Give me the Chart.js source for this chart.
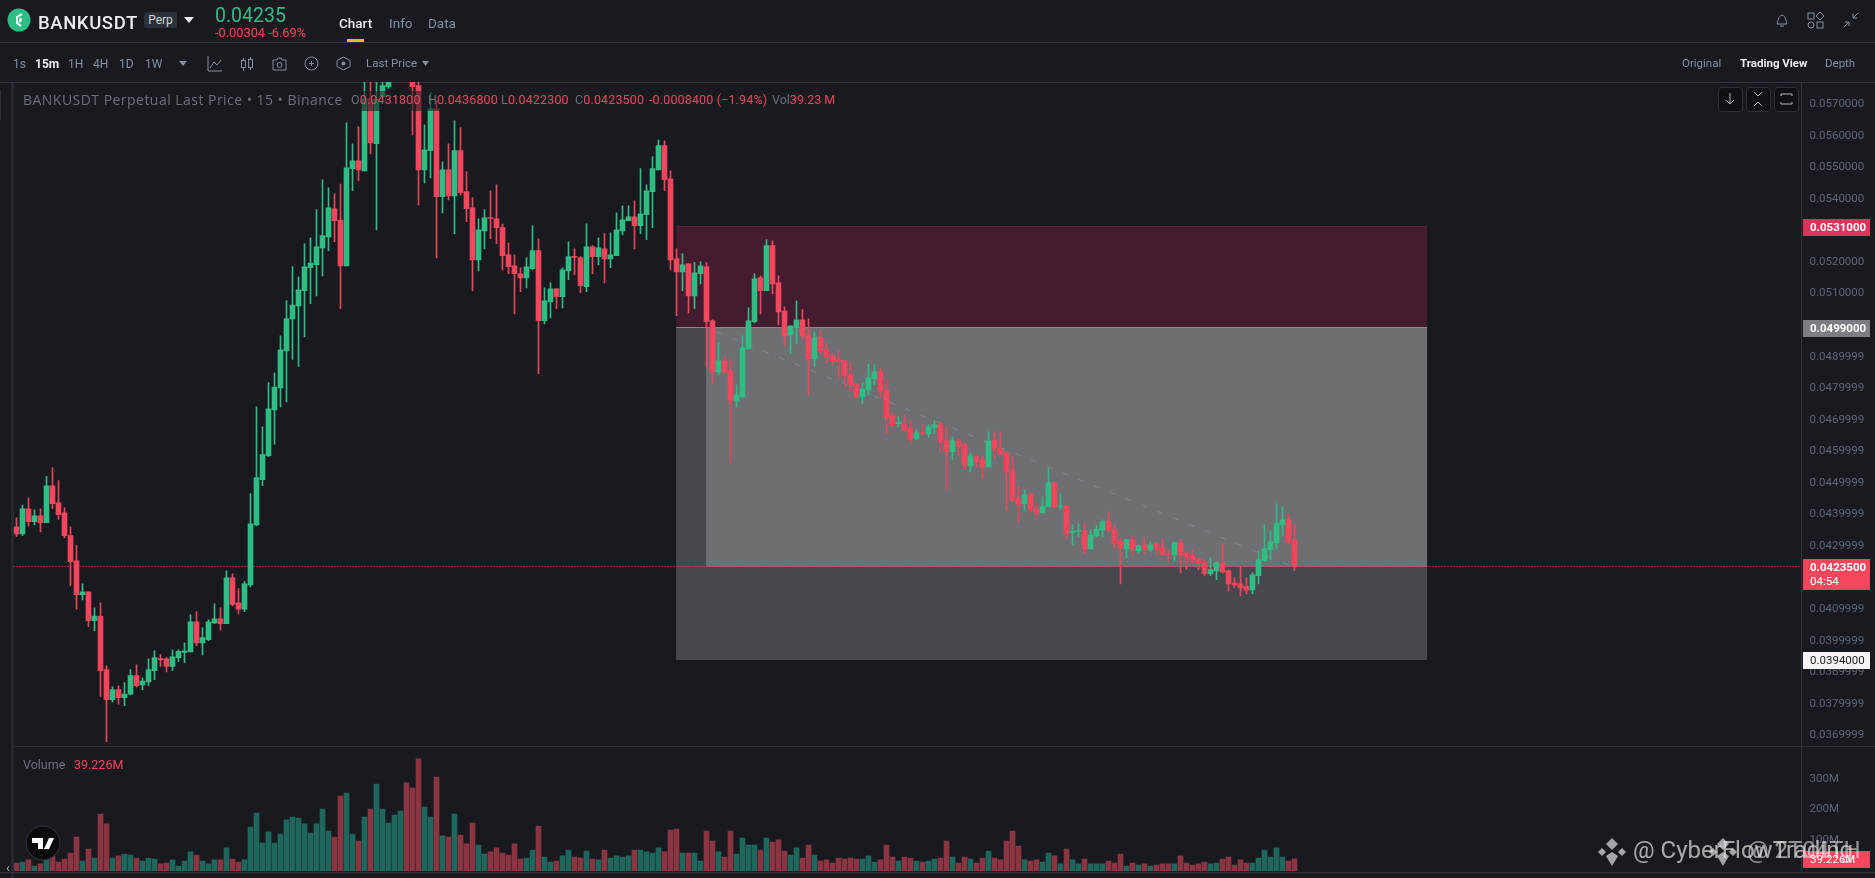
<!DOCTYPE html>
<html>
<head>
<meta charset="utf-8">
<title>BANKUSDT</title>
<script src="https://cdn.jsdelivr.net/npm/chart.js@4"></script>
<style>
  html, body { margin: 0; padding: 0; background: #181a20; overflow: hidden; }
  body { width: 1875px; height: 878px; position: relative; font-family: Roboto, sans-serif; }
  canvas { position: absolute; left: 0; top: 0; }
  .t { position: absolute; white-space: nowrap; line-height: 1; color: #848e9c; font-size: 12px; z-index: 3; }
  .line { position: absolute; background: #2f343d; z-index: 1; }
  svg { position: absolute; z-index: 3; overflow: visible; }
  .btn { position: absolute; top: 87px; width: 23px; height: 23px; border: 1px solid #2b3139; border-radius: 4px; background: #101114; z-index: 3; }
  .red { color: #f6465d; }
</style>
</head>
<body>
<div class="line" style="left:0;top:42px;width:1875px;height:1px"></div>
<div class="line" style="left:0;top:82px;width:1875px;height:1px"></div>
<div class="line" style="left:11px;top:83px;width:3px;height:795px;background:#25282e"></div>
<div class="line" style="left:0;top:90px;width:1px;height:30px;background:#2b3139"></div>

<!-- header -->
<svg width="24" height="24" style="left:7px;top:8px"><circle cx="12" cy="12" r="11.5" fill="#2ebd85"/><path d="M15 6 L10 9 L10 15 L14 18 M13 10 L14 12 L12 14" stroke="#fff" stroke-width="2" fill="none"/></svg>
<div class="t" style="left:38px;top:14px;font-size:18.5px;letter-spacing:.6px;font-weight:500;color:#eaecef">BANKUSDT</div>
<div class="t" style="left:144px;top:12px;width:33px;height:16px;line-height:16px;background:#2b3139;color:#cfd3d8;font-size:12px;text-align:center;border-radius:2px">Perp</div>
<svg width="10" height="6" style="left:184px;top:17px"><path d="M0 0H10L5 6Z" fill="#eaecef"/></svg>
<div class="t" style="left:215px;top:6px;font-size:19.5px;color:#2ebd85">0.04235</div>
<div class="t red" style="left:215px;top:27px;font-size:12.8px">-0.00304 -6.69%</div>
<div class="t" style="left:339px;top:17px;font-size:13.5px;font-weight:500;color:#eaecef">Chart</div>
<div class="t" style="left:389px;top:17px;font-size:13.5px">Info</div>
<div class="t" style="left:428px;top:17px;font-size:13.5px">Data</div>
<div class="line" style="left:347px;top:39px;width:17px;height:3px;background:#f0b90b;z-index:2"></div>

<svg width="16" height="16" style="left:1774px;top:12px"><path d="M3 12 C4 10 4 4 8 3 C12 4 12 10 13 12 Z M6 14 H10" stroke="#848e9c" fill="none"/></svg>
<svg width="18" height="18" style="left:1807px;top:11px"><rect x="1" y="2" width="6" height="6" stroke="#848e9c" fill="none"/><rect x="10" y="11" width="6" height="6" stroke="#848e9c" fill="none"/><circle cx="4" cy="14" r="3" stroke="#848e9c" fill="none"/><path d="M13 1 L17 5 L13 9 L9 5 Z" stroke="#848e9c" fill="none"/></svg>
<svg width="16" height="16" style="left:1843px;top:12px"><path d="M15 1 L10 6 M10 2 V6 H14 M1 15 L6 10 M2 10 H6 V14" stroke="#848e9c" fill="none"/></svg>

<!-- toolbar -->
<div class="t" style="left:13px;top:58px">1s</div>
<div class="t" style="left:35px;top:58px;font-weight:700;color:#eaecef">15m</div>
<div class="t" style="left:68px;top:58px">1H</div>
<div class="t" style="left:93px;top:58px">4H</div>
<div class="t" style="left:119px;top:58px">1D</div>
<div class="t" style="left:145px;top:58px">1W</div>
<svg width="8" height="5" style="left:179px;top:61px"><path d="M0 0H8L4 5Z" fill="#848e9c"/></svg>
<svg width="16" height="16" style="left:207px;top:56px"><path d="M1 0 V15 H15 M3 12 L7 6 L10 9 L14 4" stroke="#848e9c" fill="none"/></svg>
<svg width="14" height="16" style="left:240px;top:56px"><rect x="1.5" y="4.5" width="4" height="7" stroke="#848e9c" fill="none"/><rect x="8.5" y="3.5" width="4" height="8" stroke="#848e9c" fill="none"/><path d="M3.5 2V4M3.5 12V15M10.500 1V3M10.500 12V14" stroke="#848e9c"/></svg>
<svg width="15" height="15" style="left:272px;top:56px"><path d="M1 4 H5 L6 2 H9 L10 4 H14 V14 H1 Z" stroke="#848e9c" fill="none"/><circle cx="7.500" cy="9" r="2.500" stroke="#848e9c" fill="none"/></svg>
<svg width="15" height="15" style="left:304px;top:56px"><circle cx="7.500" cy="7.500" r="6.500" stroke="#848e9c" fill="none"/><path d="M5 7.500H10M7.500 5V10" stroke="#848e9c"/></svg>
<svg width="15" height="15" style="left:336px;top:56px"><path d="M7.500 1 L14 4.500 V10.500 L7.500 14 L1 10.500 V4.500 Z" stroke="#848e9c" fill="none"/><circle cx="7.500" cy="7.500" r="2" fill="#848e9c"/></svg>
<div class="t" style="left:366px;top:58px;font-size:11.5px">Last Price</div>
<svg width="7" height="5" style="left:422px;top:61px"><path d="M0 0H7L3.500 5Z" fill="#848e9c"/></svg>
<div class="t" style="left:1682px;top:58px;font-size:11.5px">Original</div>
<div class="t" style="left:1740px;top:58px;font-size:11.5px;font-weight:700;color:#eaecef">Trading View</div>
<div class="t" style="left:1825px;top:58px;font-size:11.5px">Depth</div>

<!-- legend row -->
<div class="line" style="left:350px;top:91px;width:485px;height:20px;background:rgba(24,26,32,.6);z-index:3"></div>
<div class="t" style="left:23px;top:93px;font-size:14px;letter-spacing:.47px;font-family:'Open Sans';color:#6b7078">BANKUSDT Perpetual Last Price • 15 • Binance</div>
<div class="t" style="left:351px;top:94px;font-size:12.5px;letter-spacing:.15px;color:#6b7078">O<span class="red">0.0431800</span></div>
<div class="t" style="left:428px;top:94px;font-size:12.5px;letter-spacing:.15px;color:#6b7078">H<span class="red">0.0436800</span></div>
<div class="t" style="left:501px;top:94px;font-size:12.5px;letter-spacing:.15px;color:#6b7078">L<span class="red">0.0422300</span></div>
<div class="t" style="left:575px;top:94px;font-size:12.5px;letter-spacing:.15px;color:#6b7078">C<span class="red">0.0423500</span></div>
<div class="t red" style="left:649px;top:94px;font-size:12.5px;letter-spacing:.15px">-0.0008400 (−1.94%)</div>
<div class="t" style="left:772px;top:94px;font-size:12.5px;color:#6b7078">Vol<span class="red">39.23 M</span></div>
<div class="t" style="left:23px;top:759px;font-size:12.5px;color:#6b7078">Volume</div>
<div class="t red" style="left:74px;top:759px;font-size:12.5px">39.226M</div>

<!-- chart buttons -->
<div class="btn" style="left:1718px"></div>
<div class="btn" style="left:1746px"></div>
<div class="btn" style="left:1774px"></div>
<svg width="10" height="12" style="left:1725px;top:93px"><path d="M5 0V11M1 7L5 11L9 7" stroke="#aeb4bc" fill="none"/></svg>
<svg width="12" height="14" style="left:1752px;top:92px"><path d="M2 0L6 4L10 0M2 14L6 10L10 14" stroke="#aeb4bc" fill="none"/></svg>
<svg width="12" height="12" style="left:1781px;top:93px"><path d="M0 3V1H11V3M0 9V11H11V9" stroke="#aeb4bc" fill="none" stroke-linejoin="round"/></svg>

<!-- tradingview logo and collapse tab -->
<svg width="36" height="36" style="left:25px;top:825px"><circle cx="18" cy="18" r="17" fill="#0b0b0d" stroke="#33363c"/><path d="M7 13H18V24H13V18H7ZM24 13 L29 13 L24 24 L19 24 Z" fill="#fff"/></svg>
<div class="t" style="left:6px;top:861px;font-size:13px;color:#aeb4bc">‹</div>

<!-- watermarks -->
<svg width="28" height="28" style="left:1598px;top:838px;opacity:.75"><path d="M14 0L20 6L14 12L8 6ZM4 10L8 14L4 18L0 14ZM24 10L28 14L24 18L20 14ZM14 14L20 18 L14 28 L8 18Z" fill="#d4d4d4"/></svg>
<svg width="28" height="28" style="left:1709px;top:838px;opacity:.75"><path d="M14 0L20 6L14 12L8 6ZM4 10L8 14L4 18L0 14ZM24 10L28 14L24 18L20 14ZM14 14L20 18 L14 28 L8 18Z" fill="#d4d4d4"/></svg>
<div class="t" style="left:1633px;top:838px;font-size:24px;color:rgba(225,225,225,.72);z-index:4">@ CyberFlowTrading</div>
<div class="t" style="left:1747px;top:838px;font-size:24px;color:rgba(225,225,225,.6);z-index:4">@ 2T04TH</div>

<canvas id="chart" width="1875" height="878" style="width:1875px;height:878px;z-index:2"></canvas>

<script>
// candle values, oldest first
const candleOpen = [
  0.04361, 0.04338, 0.04418, 0.04377, 0.04396, 0.04374, 0.04491, 0.04437, 0.04405, 0.04333,
  0.04253, 0.04146, 0.04155, 0.04063, 0.04078, 0.03908, 0.03813, 0.03845, 0.03819, 0.03830,
  0.03889, 0.03860, 0.03869, 0.03905, 0.03942, 0.03942, 0.03918, 0.03946, 0.03963, 0.03964,
  0.04060, 0.03993, 0.04003, 0.04056, 0.04069, 0.04054, 0.04199, 0.04120, 0.04100, 0.04177,
  0.04367, 0.04510, 0.04586, 0.04731, 0.04801, 0.04918, 0.05020, 0.05061, 0.05109, 0.05182,
  0.05192, 0.05245, 0.05280, 0.05369, 0.05333, 0.05188, 0.05496, 0.05521, 0.05489, 0.05717,
  0.05575, 0.05724, 0.05756, 0.05800, 0.05835, 0.05870, 0.05830, 0.05759, 0.05492, 0.05553,
  0.05686, 0.05407, 0.05492, 0.05410, 0.05553, 0.05423, 0.05372, 0.05207, 0.05299, 0.05340,
  0.05337, 0.05309, 0.05223, 0.05188, 0.05163, 0.05150, 0.05179, 0.05236, 0.05014, 0.05074,
  0.05115, 0.05090, 0.05172, 0.05217, 0.05213, 0.05122, 0.05248, 0.05217, 0.05242, 0.05210,
  0.05220, 0.05299, 0.05331, 0.05343, 0.05315, 0.05350, 0.05423, 0.05492, 0.05569, 0.05464,
  0.05210, 0.05169, 0.05194, 0.05093, 0.05163, 0.05185, 0.05014, 0.04852, 0.04887, 0.04855,
  0.04760, 0.04773, 0.04925, 0.05011, 0.05150, 0.05109, 0.05252, 0.05134, 0.05045, 0.04969,
  0.04995, 0.05017, 0.04969, 0.04893, 0.04960, 0.04922, 0.04903, 0.04889, 0.04887, 0.04843,
  0.04814, 0.04773, 0.04795, 0.04830, 0.04852, 0.04792, 0.04713, 0.04688, 0.04687, 0.04672,
  0.04640, 0.04659, 0.04656, 0.04675, 0.04684, 0.04633, 0.04599, 0.04633, 0.04621, 0.04554,
  0.04583, 0.04573, 0.04551, 0.04637, 0.04608, 0.04595, 0.04538, 0.04450, 0.04434, 0.04462,
  0.04418, 0.04405, 0.04424, 0.04500, 0.04424, 0.04427, 0.04343, 0.04346, 0.04348, 0.04291,
  0.04332, 0.04351, 0.04377, 0.04351, 0.04316, 0.04291, 0.04320, 0.04285, 0.04301, 0.04288,
  0.04307, 0.04294, 0.04275, 0.04272, 0.04310, 0.04275, 0.04269, 0.04259, 0.04247, 0.04212,
  0.04221, 0.04247, 0.04221, 0.04183, 0.04180, 0.04171, 0.04161, 0.04206, 0.04253, 0.04288,
  0.04310, 0.04367, 0.04383, 0.04318
];
const candleClose = [
  0.04338, 0.04418, 0.04377, 0.04396, 0.04374, 0.04491, 0.04434, 0.04399, 0.04333, 0.04250,
  0.04146, 0.04155, 0.04063, 0.04078, 0.03905, 0.03813, 0.03845, 0.03819, 0.03831, 0.03889,
  0.03857, 0.03872, 0.03908, 0.03946, 0.03940, 0.03918, 0.03949, 0.03966, 0.03968, 0.04060,
  0.03993, 0.04010, 0.04060, 0.04069, 0.04054, 0.04199, 0.04115, 0.04100, 0.04180, 0.04370,
  0.04517, 0.04590, 0.04735, 0.04804, 0.04922, 0.05020, 0.05064, 0.05112, 0.05185, 0.05197,
  0.05248, 0.05284, 0.05372, 0.05331, 0.05188, 0.05499, 0.05521, 0.05492, 0.05717, 0.05578,
  0.05717, 0.05759, 0.05800, 0.05835, 0.05870, 0.05830, 0.05756, 0.05492, 0.05556, 0.05686,
  0.05407, 0.05492, 0.05410, 0.05553, 0.05420, 0.05369, 0.05207, 0.05302, 0.05340, 0.05338,
  0.05309, 0.05220, 0.05185, 0.05163, 0.05150, 0.05185, 0.05236, 0.05014, 0.05077, 0.05115,
  0.05090, 0.05175, 0.05217, 0.05215, 0.05125, 0.05248, 0.05217, 0.05245, 0.05210, 0.05223,
  0.05302, 0.05334, 0.05343, 0.05315, 0.05353, 0.05426, 0.05496, 0.05569, 0.05461, 0.05207,
  0.05169, 0.05191, 0.05093, 0.05166, 0.05188, 0.05011, 0.04852, 0.04887, 0.04852, 0.04760,
  0.04779, 0.04928, 0.05014, 0.05147, 0.05109, 0.05252, 0.05131, 0.05042, 0.04966, 0.04998,
  0.05017, 0.04966, 0.04893, 0.04960, 0.04919, 0.04900, 0.04887, 0.04887, 0.04839, 0.04808,
  0.04770, 0.04798, 0.04833, 0.04852, 0.04789, 0.04706, 0.04684, 0.04691, 0.04668, 0.04637,
  0.04659, 0.04657, 0.04678, 0.04684, 0.04630, 0.04599, 0.04633, 0.04618, 0.04554, 0.04586,
  0.04567, 0.04551, 0.04633, 0.04605, 0.04592, 0.04535, 0.04446, 0.04431, 0.04462, 0.04415,
  0.04405, 0.04424, 0.04500, 0.04424, 0.04427, 0.04339, 0.04345, 0.04348, 0.04291, 0.04335,
  0.04354, 0.04377, 0.04351, 0.04310, 0.04294, 0.04320, 0.04288, 0.04301, 0.04288, 0.04304,
  0.04291, 0.04272, 0.04273, 0.04310, 0.04272, 0.04266, 0.04256, 0.04244, 0.04212, 0.04225,
  0.04247, 0.04218, 0.04180, 0.04177, 0.04167, 0.04161, 0.04209, 0.04256, 0.04291, 0.04313,
  0.04373, 0.04383, 0.04313, 0.04235
];
const candleHigh = [
  0.04389, 0.04430, 0.04452, 0.04415, 0.04418, 0.04521, 0.04548, 0.04507, 0.04421, 0.04361,
  0.04301, 0.04180, 0.04155, 0.04104, 0.04120, 0.03920, 0.03854, 0.03857, 0.03867, 0.03908,
  0.03923, 0.03882, 0.03942, 0.03968, 0.03956, 0.03946, 0.03971, 0.03971, 0.03993, 0.04082,
  0.04092, 0.04041, 0.04066, 0.04117, 0.04104, 0.04221, 0.04212, 0.04165, 0.04187, 0.04466,
  0.04741, 0.04678, 0.04818, 0.04849, 0.04966, 0.05078, 0.05186, 0.05153, 0.05258, 0.05277,
  0.05366, 0.05461, 0.05435, 0.05416, 0.05447, 0.05641, 0.05575, 0.05629, 0.05790, 0.05790,
  0.05790, 0.05790, 0.05810, 0.05850, 0.05880, 0.05885, 0.05840, 0.05775, 0.05635, 0.05736,
  0.05711, 0.05518, 0.05575, 0.05648, 0.05626, 0.05486, 0.05404, 0.05337, 0.05366, 0.05426,
  0.05445, 0.05320, 0.05261, 0.05223, 0.05182, 0.05213, 0.05315, 0.05274, 0.05118, 0.05134,
  0.05115, 0.05182, 0.05264, 0.05242, 0.05217, 0.05321, 0.05252, 0.05277, 0.05290, 0.05293,
  0.05356, 0.05378, 0.05378, 0.05394, 0.05496, 0.05445, 0.05534, 0.05587, 0.05584, 0.05489,
  0.05242, 0.05226, 0.05194, 0.05198, 0.05201, 0.05198, 0.05017, 0.04944, 0.04900, 0.04890,
  0.04811, 0.04966, 0.05055, 0.05163, 0.05156, 0.05271, 0.05267, 0.05156, 0.05058, 0.04998,
  0.05077, 0.05049, 0.05020, 0.04979, 0.04982, 0.04944, 0.04909, 0.04919, 0.04887, 0.04881,
  0.04814, 0.04817, 0.04877, 0.04874, 0.04865, 0.04827, 0.04722, 0.04710, 0.04716, 0.04697,
  0.04668, 0.04684, 0.04684, 0.04697, 0.04694, 0.04678, 0.04646, 0.04640, 0.04627, 0.04595,
  0.04586, 0.04586, 0.04662, 0.04662, 0.04662, 0.04595, 0.04583, 0.04488, 0.04478, 0.04469,
  0.04434, 0.04456, 0.04545, 0.04503, 0.04465, 0.04427, 0.04367, 0.04370, 0.04373, 0.04351,
  0.04364, 0.04383, 0.04408, 0.04364, 0.04326, 0.04323, 0.04332, 0.04304, 0.04326, 0.04313,
  0.04310, 0.04320, 0.04285, 0.04313, 0.04320, 0.04282, 0.04288, 0.04259, 0.04256, 0.04263,
  0.04250, 0.04307, 0.04225, 0.04199, 0.04234, 0.04199, 0.04215, 0.04285, 0.04367, 0.04348,
  0.04434, 0.04424, 0.04402, 0.04368
];
const candleLow = [
  0.04330, 0.04333, 0.04364, 0.04368, 0.04345, 0.04374, 0.04418, 0.04384, 0.04326, 0.04175,
  0.04100, 0.04129, 0.04044, 0.04032, 0.03823, 0.03680, 0.03806, 0.03799, 0.03794, 0.03828,
  0.03854, 0.03845, 0.03857, 0.03876, 0.03918, 0.03901, 0.03905, 0.03933, 0.03930, 0.03964,
  0.03984, 0.03955, 0.04000, 0.04054, 0.04034, 0.04054, 0.04110, 0.04085, 0.04092, 0.04170,
  0.04364, 0.04491, 0.04583, 0.04623, 0.04741, 0.04757, 0.04891, 0.04869, 0.04963, 0.05068,
  0.05093, 0.05156, 0.05236, 0.05265, 0.05052, 0.05188, 0.05426, 0.05458, 0.05489, 0.05543,
  0.05302, 0.05715, 0.05750, 0.05790, 0.05820, 0.05815, 0.05603, 0.05381, 0.05451, 0.05467,
  0.05213, 0.05356, 0.05397, 0.05290, 0.05413, 0.05328, 0.05109, 0.05172, 0.05242, 0.05274,
  0.05258, 0.05175, 0.05163, 0.05036, 0.05106, 0.05118, 0.05175, 0.04846, 0.05004, 0.05023,
  0.05052, 0.05055, 0.05144, 0.05160, 0.05103, 0.05106, 0.05163, 0.05191, 0.05134, 0.05182,
  0.05220, 0.05286, 0.05331, 0.05242, 0.05290, 0.05271, 0.05309, 0.05492, 0.05426, 0.05175,
  0.05030, 0.05109, 0.05039, 0.05052, 0.05131, 0.04868, 0.04817, 0.04843, 0.04849, 0.04564,
  0.04741, 0.04770, 0.04925, 0.05007, 0.05036, 0.05109, 0.05099, 0.05001, 0.04935, 0.04909,
  0.04941, 0.04957, 0.04779, 0.04868, 0.04909, 0.04881, 0.04874, 0.04830, 0.04805, 0.04792,
  0.04770, 0.04751, 0.04779, 0.04811, 0.04770, 0.04656, 0.04675, 0.04678, 0.04665, 0.04627,
  0.04637, 0.04652, 0.04646, 0.04656, 0.04599, 0.04481, 0.04573, 0.04589, 0.04542, 0.04535,
  0.04548, 0.04516, 0.04551, 0.04579, 0.04586, 0.04415, 0.04440, 0.04377, 0.04412, 0.04408,
  0.04386, 0.04405, 0.04424, 0.04421, 0.04415, 0.04320, 0.04304, 0.04329, 0.04275, 0.04291,
  0.04329, 0.04329, 0.04345, 0.04294, 0.04180, 0.04263, 0.04272, 0.04278, 0.04275, 0.04282,
  0.04275, 0.04272, 0.04250, 0.04253, 0.04215, 0.04225, 0.04247, 0.04225, 0.04206, 0.04206,
  0.04193, 0.04215, 0.04158, 0.04167, 0.04142, 0.04148, 0.04148, 0.04180, 0.04253, 0.04256,
  0.04291, 0.04332, 0.04307, 0.04223
];
// volume in millions
const volumes = [
  26, 29, 36, 16, 23, 42, 52, 29, 39, 58, 110, 32, 71, 42, 185, 153, 42, 49, 55, 52,
  42, 32, 42, 39, 23, 26, 36, 16, 32, 62, 52, 32, 23, 36, 36, 75, 39, 29, 36, 143,
  188, 91, 127, 91, 120, 166, 175, 172, 153, 123, 153, 201, 130, 110, 243, 253, 120, 97, 175, 201,
  282, 201, 156, 182, 195, 286, 269, 364, 208, 175, 305, 114, 110, 185, 117, 88, 156, 84, 55, 62,
  75, 58, 52, 88, 39, 42, 68, 146, 45, 29, 32, 49, 68, 45, 42, 65, 39, 36, 68, 42,
  49, 45, 49, 68, 68, 62, 58, 75, 62, 133, 136, 58, 58, 58, 32, 130, 97, 62, 45, 130,
  55, 107, 84, 84, 68, 107, 94, 101, 65, 52, 75, 42, 84, 52, 32, 36, 26, 42, 39, 42,
  39, 39, 49, 29, 36, 84, 45, 32, 45, 42, 32, 29, 32, 39, 42, 97, 45, 26, 45, 39,
  26, 42, 65, 42, 36, 97, 130, 81, 36, 32, 36, 29, 58, 49, 23, 71, 36, 23, 39, 23,
  23, 23, 32, 26, 55, 16, 26, 19, 23, 16, 19, 23, 23, 23, 49, 26, 19, 23, 29, 23,
  26, 39, 45, 19, 36, 26, 26, 42, 68, 45, 75, 45, 32, 39.226
];

const priceTicks = [
  '0.0570000', '0.0560000', '0.0550000', '0.0540000', '0.0520000', '0.0510000',
  '0.0489999', '0.0479999', '0.0469999', '0.0459999', '0.0449999', '0.0439999',
  '0.0429999', '0.0409999', '0.0399999', '0.0389999', '0.0379999', '0.0369999'
];
const volumeTicks = [100, 200, 300];

// position tool drawn on the chart
const stopPrice = 0.0531;
const entryPrice = 0.0499;
const lastPrice = 0.04235;
const targetPrice = 0.0394;
const toolStart = 109.93;
const toolInner = 114.93;
const toolEnd = 235.1;
const trendX = [116.6, 212.3];
const trendY = [0.04979, 0.04238];

const GREEN = '#2ebd85', RED = '#f6465d';
const up = candleOpen.map((o, i) => candleClose[i] >= o);
const idx = candleOpen.map((_, i) => i);

const drawTool = {
  id: 'drawTool',
  beforeDatasetsDraw(chart) {
    const { ctx, scales: { x, y } } = chart;
    const band = (a, b, p, q, color) => {
      ctx.fillStyle = color;
      ctx.fillRect(x.getPixelForValue(a), Math.round(y.getPixelForValue(p)), x.getPixelForValue(b) - x.getPixelForValue(a), Math.round(y.getPixelForValue(q)) - Math.round(y.getPixelForValue(p)));
    };
    band(toolStart, toolEnd, stopPrice, entryPrice, '#431d2f');
    band(toolStart, toolEnd, entryPrice, targetPrice, '#47484d');
    band(toolInner, toolEnd, entryPrice, lastPrice, '#6e6f73');
    band(toolStart, toolEnd, entryPrice + 0.00003, entryPrice, '#87888c');
    band(toolStart, toolEnd, stopPrice + 0.00003, stopPrice, '#58283a');
  },
  afterDraw(chart) {
    const { ctx, chartArea, scales: { y, volume } } = chart;
    // pane separators
    ctx.fillStyle = '#2b2e35';
    ctx.fillRect(chartArea.left, y.bottom, 1875 - chartArea.left, 1);
    ctx.fillStyle = '#2f343d';
    ctx.fillRect(0, volume.bottom + 1, 1875, 1);
    // price tags on the axis
    const tag = (value, text, bg, fg, sub) => {
      const py = Math.round(y.getPixelForValue(value));
      const h = sub ? 31 : 17;
      ctx.fillStyle = bg;
      ctx.fillRect(1803, py - 8, 67, h);
      ctx.fillStyle = fg;
      ctx.font = (fg === '#fff' ? '700 ' : '') + '11.5px Roboto';
      ctx.textAlign = 'left';
      ctx.textBaseline = 'middle';
      ctx.fillText(text, 1810, py + 1);
      if (sub) {
        ctx.font = '11.5px Roboto';
        ctx.fillText(sub, 1810, py + 15);
      }
    };
    tag(stopPrice, '0.0531000', '#e0325a', '#fff');
    tag(entryPrice, '0.0499000', '#7b7e83', '#fff');
    tag(lastPrice, '0.0423500', RED, '#fff', '04:54');
    tag(targetPrice, '0.0394000', '#f5f3f5', '#1e2026');
    // volume tag
    const vy = Math.round(volume.getPixelForValue(39.226));
    ctx.fillStyle = RED;
    ctx.fillRect(1803, vy - 8, 67, 17);
    ctx.fillStyle = '#fff';
    ctx.font = '11.5px Roboto';
    ctx.fillText('39.226M', 1810, vy + 1);
  }
};

// fixed axis width, and no label overhang eating into the plot height
const fitAxis = (s) => { s.width = 73.5; s.paddingTop = 0; s.paddingBottom = 0; };

new Chart(document.getElementById('chart'), {
  type: 'bar',
  data: {
    datasets: [
      {
        label: 'bodies',
        data: idx.map((i) => ({ x: i, y: [candleOpen[i], candleClose[i]] })),
        backgroundColor: up.map((u) => (u ? GREEN : RED)),
        barThickness: 5,
        minBarLength: 1,
        yAxisID: 'y',
        order: 1,
      },
      {
        label: 'wicks',
        data: idx.map((i) => ({ x: i, y: [candleLow[i], candleHigh[i]] })),
        backgroundColor: up.map((u) => (u ? GREEN : RED)),
        barThickness: 1,
        yAxisID: 'y',
        order: 2,
      },
      {
        label: 'volume',
        data: idx.map((i) => ({ x: i, y: volumes[i] })),
        backgroundColor: up.map((u) => (u ? '#1e675c' : '#8b3442')),
        barThickness: 5,
        yAxisID: 'volume',
        order: 3,
      },
      {
        type: 'line',
        label: 'last price',
        data: [{ x: -0.5, y: lastPrice }, { x: 297.5, y: lastPrice }],
        borderColor: RED,
        borderWidth: 1,
        borderDash: [1, 2],
        pointRadius: 0,
        yAxisID: 'y',
        order: 4,
      },
      {
        type: 'line',
        label: 'trend',
        data: [{ x: trendX[0], y: trendY[0] }, { x: trendX[1], y: trendY[1] }],
        borderColor: '#85868b',
        borderWidth: 1,
        borderDash: [6, 11],
        pointRadius: 0,
        yAxisID: 'y',
        order: 5,
      },
    ],
  },
  options: {
    responsive: false,
    animation: false,
    events: [],
    datasets: { bar: { grouped: false, borderWidth: 0 } },
    layout: { padding: { left: 13.5, top: 82, bottom: 7, right: 0 } },
    plugins: { legend: { display: false }, tooltip: { enabled: false } },
    scales: {
      x: { type: 'linear', display: false, offset: false, min: -0.5, max: 297.5, grid: { display: false } },
      y: {
        position: 'right',
        stack: 'panes',
        stackWeight: 664,
        min: 0.036661,
        max: 0.057707,
        grid: { display: false, drawTicks: false },
        border: { display: true, color: '#2f343d' },
        afterFit: fitAxis,
        afterBuildTicks: (s) => { s.ticks = priceTicks.map((t) => ({ value: parseFloat(t) })); },
        ticks: {
          autoSkip: false,
          padding: 8,
          color: '#5e6673',
          font: { family: 'Roboto', size: 11.5 },
          callback: (v) => v.toFixed(7),
        },
      },
      volume: {
        position: 'right',
        stack: 'panes',
        stackWeight: 125,
        min: 0,
        max: 406,
        grid: { display: false, drawTicks: false },
        border: { display: true, color: '#2f343d' },
        afterFit: fitAxis,
        afterBuildTicks: (s) => { s.ticks = volumeTicks.map((v) => ({ value: v })); },
        ticks: {
          autoSkip: false,
          padding: 8,
          color: '#5e6673',
          font: { family: 'Roboto', size: 11.5 },
          callback: (v) => v + 'M',
        },
      },
    },
  },
  plugins: [drawTool],
});
</script>
</body>
</html>
